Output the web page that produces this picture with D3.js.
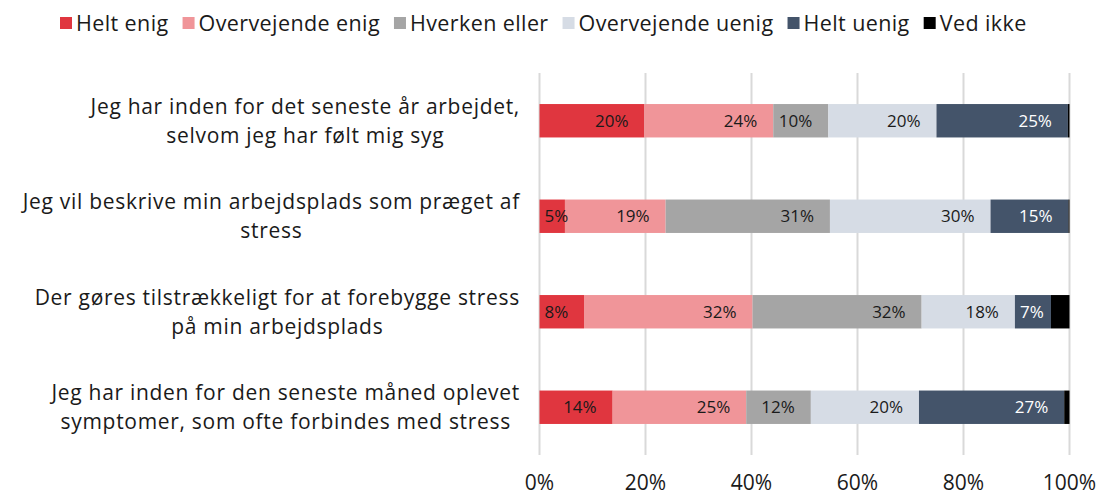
<!DOCTYPE html>
<html>
<head>
<meta charset="utf-8">
<script src="https://d3js.org/d3.v7.min.js"></script>
<style>
    body { margin: 0; background: #FFFFFF; font-family: "Open Sans", sans-serif; }
    svg { display: block; }
    .grid line { stroke: #D9D9D9; stroke-width: 2; }
    .cat text { font-size: 21px; letter-spacing: 0.7px; fill: #1a1a1a; }
    .tick-lbl { font-size: 21px; fill: #1a1a1a; }
    .legend text { font-size: 21.5px; letter-spacing: 0.4px; fill: #1a1a1a; }
    .val { font-size: 17px; }
</style>
</head>
<body>
<div id="chart"></div>
<script>
    // data
    var questions = [
        ["Jeg har inden for det seneste år arbejdet,", "selvom jeg har følt mig syg"],
        ["Jeg vil beskrive min arbejdsplads som præget af", "stress"],
        ["Der gøres tilstrækkeligt for at forebygge stress", "på min arbejdsplads"],
        ["Jeg har inden for den seneste måned oplevet", "symptomer, som ofte forbindes med stress"]
    ];
    var answers = ["Helt enig", "Overvejende enig", "Hverken eller", "Overvejende uenig", "Helt uenig", "Ved ikke"];
    var colors = ["#E0363F", "#F09599", "#A5A5A5", "#D6DCE5", "#44546A", "#000000"];
    var helt_enig       = [19.8, 4.8, 8.4, 13.8];
    var overvejende_enig = [24.3, 19.0, 31.8, 25.2];
    var hverken_eller   = [10.4, 31.0, 31.9, 12.2];
    var overvejende_uenig = [20.4, 30.3, 17.6, 20.4];
    var helt_uenig      = [24.8, 14.7, 6.8, 27.4];
    var ved_ikke        = [0.3, 0.2, 3.5, 1.0];
    var xTicks = [0, 20, 40, 60, 80, 100];

    var series = [helt_enig, overvejende_enig, hverken_eller, overvejende_uenig, helt_uenig, ved_ikke];

    var width = 1103, height = 495;
    var svg = d3.select("#chart").append("svg")
        .attr("width", width)
        .attr("height", height);

    var x = d3.scaleLinear().domain([0, 100]).range([539.5, 1069.5]);
    var y = d3.scaleBand().domain(d3.range(questions.length))
        .range([73, 455]).paddingInner(0.65).paddingOuter(0.325);

    // gridlines
    svg.append("g").attr("class", "grid")
        .selectAll("line").data(xTicks).enter().append("line")
        .attr("x1", function(d) { return x(d); })
        .attr("x2", function(d) { return x(d); })
        .attr("y1", 73).attr("y2", 455);

    svg.append("g").selectAll("text").data(xTicks).enter().append("text")
        .attr("class", "tick-lbl")
        .attr("x", function(d) { return x(d); })
        .attr("y", 490)
        .attr("text-anchor", "middle")
        .text(function(d) { return d + "%"; });

    // stacked bars
    var rows = questions.map(function(q, i) {
        var acc = 0;
        return series.map(function(s, k) {
            var seg = { row: i, k: k, v: s[i], x0: acc, x1: acc + s[i] };
            acc += s[i];
            return seg;
        });
    });

    var segs = svg.append("g").selectAll("g").data(rows).enter().append("g");
    segs.selectAll("rect").data(function(d) { return d; }).enter().append("rect")
        .attr("x", function(d) { return x(d.x0); })
        .attr("width", function(d) { return x(d.x1) - x(d.x0); })
        .attr("y", function(d) { return y(d.row); })
        .attr("height", y.bandwidth())
        .attr("fill", function(d) { return colors[d.k]; });

    // value labels, inside end
    segs.selectAll("text").data(function(d) { return d.filter(function(s) { return s.k < 5; }); })
        .enter().append("text")
        .attr("class", "val")
        .attr("text-anchor", "end")
        .attr("y", function(d) { return y(d.row) + y.bandwidth() / 2; })
        .attr("dy", "0.36em")
        .attr("fill", function(d) { return d.k == 4 ? "#FFFFFF" : "#1a1a1a"; })
        .text(function(d) { return Math.round(d.v) + "%"; })
        .attr("x", function(d) {
            var w = this.getComputedTextLength();
            return Math.max(x(d.x1) - 16, x(d.x0) + w + 5);
        });

    // category labels
    var cats = svg.append("g").attr("class", "cat");
    questions.forEach(function(lines, i) {
        var g = cats.append("g");
        var t = g.selectAll("text").data(lines).enter().append("text")
            .attr("y", function(d, j) { return y(i) + y.bandwidth() / 2 + (j - (lines.length - 1) / 2) * 29; })
            .attr("dy", "0.36em")
            .attr("text-anchor", "middle")
            .text(function(d) { return d; });
        var maxW = d3.max(t.nodes(), function(n) { return n.getComputedTextLength(); });
        t.attr("x", 520 - maxW / 2);
    });

    // legend
    var legend = svg.append("g").attr("class", "legend");
    var lx = 60;
    answers.forEach(function(a, k) {
        legend.append("rect")
            .attr("x", lx).attr("y", 17)
            .attr("width", 12).attr("height", 12)
            .attr("fill", colors[k]);
        var t = legend.append("text")
            .attr("x", lx + 16).attr("y", 23)
            .attr("dy", "0.36em")
            .text(a);
        lx += 16 + t.node().getComputedTextLength() + 14;
    });
</script>
</body>
</html>
